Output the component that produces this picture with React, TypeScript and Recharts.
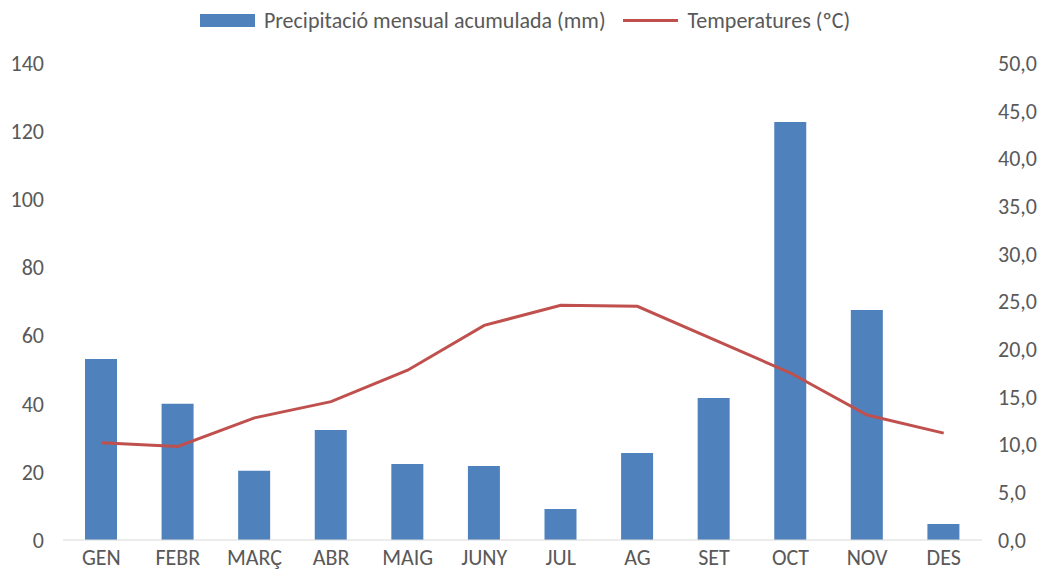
import React from 'react';
import {
  ComposedChart,
  Bar,
  Line,
  XAxis,
  YAxis,
  Legend,
} from 'recharts';

const months = ['GEN', 'FEBR', 'MARÇ', 'ABR', 'MAIG', 'JUNY', 'JUL', 'AG', 'SET', 'OCT', 'NOV', 'DES'];
const precipitation = [53.1, 40, 20.3, 32.3, 22.3, 21.7, 9.1, 25.5, 41.7, 122.7, 67.5, 4.7];
const temperatures = [10.2, 9.8, 12.8, 14.5, 17.8, 22.5, 24.6, 24.5, 21.0, 17.5, 13.1, 11.2];
const leftTicks = [0, 20, 40, 60, 80, 100, 120, 140];
const rightTicks = [0, 5, 10, 15, 20, 25, 30, 35, 40, 45, 50];

const BAR_COLOR = '#4F81BD';
const LINE_COLOR = '#C0504D';
const TEXT_COLOR = '#595959';
const FONT = 'Carlito, Lato, sans-serif';
const FONT_SIZE = 22;

const data = months.map((m, i) => ({
  month: m,
  prec: precipitation[i],
  temp: temperatures[i],
}));

function ChartLegend() {
  return (
    <div
      style={{
        display: 'flex',
        justifyContent: 'center',
        alignItems: 'center',
        fontFamily: FONT,
        fontSize: FONT_SIZE,
        color: TEXT_COLOR,
        height: 40,
        paddingLeft: 4,
      }}
    >
      <span style={{ display: 'inline-block', width: 55, height: 13, background: BAR_COLOR, marginRight: 9 }} />
      <span>Precipitació mensual acumulada (mm)</span>
      <span
        style={{ display: 'inline-block', width: 55, height: 3, background: LINE_COLOR, marginLeft: 17, marginRight: 10 }}
      />
      <span>Temperatures (ºC)</span>
    </div>
  );
}

export default function App() {
  return (
    <div style={{ position: 'absolute', left: 0, top: 0, background: '#fff' }}>
      <ComposedChart
        width={1046}
        height={570}
        data={data}
        margin={{ top: 23, right: 0, bottom: 0, left: 0 }}
      >
        <Legend
          verticalAlign="top"
          align="center"
          wrapperStyle={{ top: 0 }}
          content={() => <ChartLegend />}
        />
        <XAxis
          dataKey="month"
          height={30}
          axisLine={{ stroke: '#D9D9D9', strokeWidth: 1 }}
          tickLine={false}
          tick={{ fill: TEXT_COLOR, fontSize: FONT_SIZE, fontFamily: FONT }}
          tickMargin={3}
        />
        <YAxis
          yAxisId="left"
          width={63}
          domain={[0, 140]}
          ticks={leftTicks}
          axisLine={false}
          tickLine={false}
          tickSize={0}
          tickMargin={19}
          tick={{ fill: TEXT_COLOR, fontSize: FONT_SIZE, fontFamily: FONT }}
        />
        <YAxis
          yAxisId="right"
          orientation="right"
          width={64}
          domain={[0, 50]}
          ticks={rightTicks}
          axisLine={false}
          tickLine={false}
          tickSize={0}
          tickMargin={16}
          tickFormatter={(v: number) => v.toFixed(1).replace('.', ',')}
          tick={{ fill: TEXT_COLOR, fontSize: FONT_SIZE, fontFamily: FONT }}
        />
        <Bar
          yAxisId="left"
          dataKey="prec"
          name="Precipitació mensual acumulada (mm)"
          fill={BAR_COLOR}
          barSize={32}
          isAnimationActive={false}
        />
        <Line
          yAxisId="right"
          type="linear"
          dataKey="temp"
          name="Temperatures (ºC)"
          stroke={LINE_COLOR}
          strokeWidth={3}
          dot={false}
          isAnimationActive={false}
        />
      </ComposedChart>
    </div>
  );
}
